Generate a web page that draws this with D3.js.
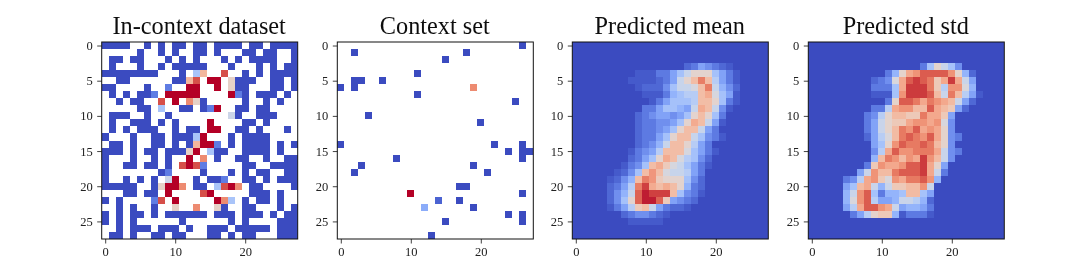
<!DOCTYPE html>
<html><head><meta charset="utf-8">
<script src="https://cdnjs.cloudflare.com/ajax/libs/d3/7.8.5/d3.min.js"></script>
<style>html,body{margin:0;padding:0;background:#fff}svg{display:block}text{font-family:"Liberation Serif",serif}</style>
</head><body><svg id="c" width="1076" height="277"></svg>
<script>
const titles = ["In-context dataset","Context set","Predicted mean","Predicted std"];
const xTickValues = [0,10,20];
const yTickValues = [0,5,10,15,20,25];
const gridSize = 28;
// colour levels are on a 0..9 scale; "." is an empty cell
const inContextRows = [
"0000..0.0.00.00.0000.00.0000",
".....0..0.0..00.0...00.00..0",
".00.00...0.0.0...0.0.0000..0",
".0...0..0.00000...0...0.0.00",
"00000000...0.36..8..0.0.0000",
"..00......0068.99.5000..00.0",
"00....0..1..99..9.500...00.0",
".0.0.001.99999....910.000.0.",
"..0.00..8.9.750.....0..0.0..",
".....00.3..00.019..00.00....",
".000..0..0........40..000...",
".0..000.0.0....9....00.0....",
".0.0.000..0.00.99..00.0...0.",
"0...0..00.00039...0.0000....",
".00.0..00.0.06991.0.0000.0.0",
"000.0.00.00059.300..0000.0..",
"0...0..0.0..9.7.0..00..0..00",
"0..00.00.0.8981.....00..0000",
"0.......01....0...0.0.00..00",
"0..0.0.0.49..0.001..00.0.000",
"00000..05997.00.3897.00....0",
"...00.00.9....89.....000.0..",
"0.0....18.9.....973.0.00.0..",
"..0.0..0..5..7..50..00...0.0",
"0.0.00.0.000000.000.000.0.00",
"0.0.0......0......0.0....000",
"..0.000.000.0..000.00000.000",
".00.0..00.00...00.0.00...000"
];
const contextCols = [26,2,18,15,11,2,3,6,2,0,19,11,25,4,20,0,22,26,26,27,26,24,8,3,19,2,21,17,18,10,26,14,17,12,19,24,26,26,15,13];
const contextRows = [0,1,1,2,4,5,5,5,6,6,6,7,8,10,11,14,14,14,15,15,16,15,16,17,17,18,18,20,20,21,21,22,22,23,23,24,24,25,25,27];
const contextVals = [0,0,0,0,0,0,0,0,0,0,7,0,0,0,0,0,0,0,0,0,0,0,0,0,0,0,0,0,0,9,0,.5,0,2.2,0,0,0,0,0,0];
const meanStart = [3,16,4,9,5,8,6,9,7,10,8,11,9,10,10,9,11,9,12,9,13,9,14,9,15,8,16,8,17,7,18,6,19,5,20,5,21,5,22,5,23,5,24,7,25,8];
const meanRows = [
[.6,1,2,1.5,1,.6,.3],
[.3,.3,.3,1,1,2,3,4,5,5,5,3,2,1,.3],
[.3,.3,.3,.3,.6,1,2,4,5,6,7.5,6,3.5,2,1,.3],
[.3,.6,.6,.6,1.5,3,4,4,4.5,6,7.5,4,2.5,1.5,.6],
[.3,.3,.3,1,2.5,3,3.5,3.5,6,6.5,4.5,3,2,.3],
[.3,1,2,3,3,3,3.5,6,6,5,3,1,.3],
[1,1,2,3,3,2.5,2,4,6.5,6,4,1.5,.3],
[.6,1,1.5,2,2,1.5,2,3,5,6,5,3,1],
[.6,1,1,1.5,1.5,2,3,5,6.5,6,4,2,.3],
[.6,1,1,1.5,2,3,5,6,6,4,2,1],
[.6,1,1,2,3,5,6,6,4,3,1.5,1,.3],
[.6,1,1.5,2.5,4,6,6,5,3.5,2,1],
[.3,1,1.5,2,3.5,6,6,6,4.5,3,2,1,.3],
[.6,1,2,3,5,6.5,6,4.5,3.5,3,1.5,.6],
[.3,1,1.5,3,6,6.5,5.5,4.5,4,3,2,1,.3],
[.3,.6,1.5,3,6,7,6,4.5,4,4,3.5,2,1],
[.3,.6,1.5,2.5,6,7.5,7,5.5,5,5,5,3,1.5,.6],
[.6,1,2,3.5,7.5,8.5,6.5,6,6.5,6,5,2.5,1,.6],
[.6,1.5,2.5,4,8,9,8.5,8.5,8.5,6,3,1.5,1,.3],
[.6,1.5,3,5,8,9,9,8,5.5,2,1.5,1,.6],
[.3,1,2,3.5,5.5,6,4,2,1,.6,.6,.3],
[.6,1,1.5,1.5,1,.6,.3],
[.3,.3,.3,.3,.3]
];
const stdStart = [3,16,4,11,5,9,6,9,7,9,8,11,9,9,10,8,11,8,12,8,13,8,14,9,15,9,16,9,17,8,18,7,19,5,20,5,21,5,22,5,23,5,24,6];
const stdRows = [
[1,3,5,4,3,1.5],
[1,2.5,5,6.5,7,8,8,8,8,7,5,2.5,.6],
[.6,1,1.5,4.5,6.5,8,8.5,8,7.5,5.5,6.5,8.5,6.5,4,2],
[1,1,1,3,6.5,8.5,8.5,8.5,7.5,5.5,3.5,7,7,4.5,2.5],
[.3,.3,.3,3,7,8.5,8.5,8.5,8,6,4,7.5,6,3.5,2,.3],
[1,5,8,8,7.5,6.5,7.5,7,6.5,6,4,2,.6],
[1,1,3.5,6.5,7,7,6,6,8,6.5,6,5.5,2,.6],
[1,1.5,3.5,5,6,6,5.5,5.5,7.5,6.5,6.5,5.5,2],
[1,2,4,5,5.5,5.5,6.5,7,7,6.5,7,4.5,1.5],
[1,2,4,5,6,7.5,7,8,6.5,7,6.5,5,1.5],
[.6,2,3.5,4.5,6,7.5,8,7.5,7,8,6.5,5,1.5,1],
[2,3,5,7,8,7.5,7.5,8,7.5,6,5,1.5],
[1.5,3.5,6.5,8,7,7,7.5,7.5,7.5,6.5,4,1.5,1],
[2.5,6,7.5,7,6,7,6.5,8.5,7,6,4,1.5],
[1,5.5,7,6.5,6.5,7,8,8,8.5,6.5,5,2],
[2,4,7,6,6,7.5,8,8,8,8.5,6.5,4,1],
[1,1.5,3.5,6.5,7,5.5,4.5,7,6.5,7.5,7.5,8,7,2.5],
[2,3,6,6.5,4,2.5,4,5.5,5.5,6,6,7,4],
[2.5,4,7,8,3,1,2.5,2.5,3,6,6,3,2],
[2.5,4.5,7,8,3.5,2,2,2.5,4,4,3.5,2.5,.6],
[2,3.5,6.5,8,8,7,6.5,4,2,2.5,2.5,2,1],
[1,2,3.5,5,5.5,5.5,2.5,.3,1,1,1,.3]
];
const levelTops = [9,9,9.3,9.2];

const coolwarm = d3.interpolateRgbBasis(["#3b4cc0","#6282ea","#8db0fe","#b7cff9","#dddcdc","#f4c6af","#f49a7b","#dc5e4b","#b40426"]);

function cellsFromStrings(rows){
  const out=[];
  rows.forEach((s,r)=>s.split("").forEach((ch,c)=>{ if(ch!==".") out.push({r,c,v:+ch}); }));
  return out;
}
function cellsFromTriples(rs,cs,vs){ return vs.map((v,i)=>({r:rs[i],c:cs[i],v})); }
function cellsFromSparse(start,rows){
  const m=[]; for(let r=0;r<gridSize;r++)for(let c=0;c<gridSize;c++)m.push({r,c,v:0});
  rows.forEach((vals,i)=>{ const r=start[2*i],c0=start[2*i+1]; vals.forEach((v,j)=>{ m[r*gridSize+c0+j].v=v; }); });
  return m;
}
const panelCells = [
  cellsFromStrings(inContextRows),
  cellsFromTriples(contextRows,contextCols,contextVals),
  cellsFromSparse(meanStart,meanRows),
  cellsFromSparse(stdStart,stdRows)
];
const lefts=[101.7,337.3,572.3,808.3], panelTop=42, W=196, H=197;
const svg=d3.select("#c");
const defs=svg.append("defs");
const soft=defs.append("filter").attr("id","soft").attr("x","-5%").attr("y","-5%").attr("width","110%").attr("height","110%");
soft.append("feGaussianBlur").attr("stdDeviation",0.5);
const softT=defs.append("filter").attr("id","softT").attr("x","-5%").attr("y","-5%").attr("width","110%").attr("height","110%");
softT.append("feGaussianBlur").attr("stdDeviation",0.3);

titles.forEach((t,i)=>{
  const color=d3.scaleSequential(coolwarm).domain([0,levelTops[i]]);
  const g=svg.append("g").attr("transform",`translate(${lefts[i]},${panelTop})`);
  const x=d3.scaleLinear().domain([-.5,gridSize-.5]).range([0,W]);
  const y=d3.scaleLinear().domain([-.5,gridSize-.5]).range([0,H]);
  defs.append("clipPath").attr("id","cl"+i).append("rect").attr("width",W).attr("height",H);
  const holder=g.append("g").attr("clip-path",`url(#cl${i})`);
  holder.append("g").attr("filter","url(#soft)").selectAll("rect").data(panelCells[i]).join("rect")
    .attr("shape-rendering","crispEdges")
    .attr("x",d=>x(d.c-.5)).attr("y",d=>y(d.r-.5))
    .attr("width",x(1)-x(0)).attr("height",y(1)-y(0))
    .attr("fill",d=>color(d.v));
  g.append("rect").attr("width",W).attr("height",H).attr("fill","none").attr("stroke","#111").attr("stroke-width",1);
  const ax=g.append("g").attr("transform",`translate(0,${H})`).call(d3.axisBottom(x).tickValues(xTickValues).tickSize(4.5).tickPadding(4));
  const ay=g.append("g").call(d3.axisLeft(y).tickValues(yTickValues).tickSize(4.5).tickPadding(4.5));
  [ax,ay].forEach(a=>{ a.select(".domain").remove();
    a.selectAll("line").attr("stroke","#111").attr("stroke-width",.8);
    a.selectAll("text").attr("fill","#222").style("font-size","12.5px").style("font-family",'"Liberation Serif",serif').attr("filter","url(#softT)"); });
  g.append("text").attr("x",W/2-.5).attr("y",-8).attr("text-anchor","middle").attr("fill","#111")
    .style("font-size","24.3px").attr("filter","url(#softT)").text(t);
});
</script></body></html>
